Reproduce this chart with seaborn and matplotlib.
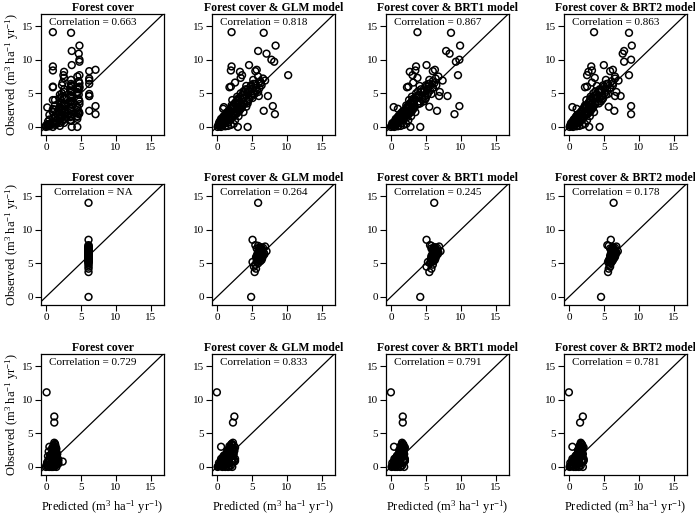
import matplotlib
matplotlib.use("Agg")
import matplotlib.pyplot as plt
import seaborn as sns
import pandas as pd

# ---------------- data ----------------
titles = ["Forest cover", "Forest cover & GLM model",
          "Forest cover & BRT1 model", "Forest cover & BRT2 model"]
correlations = [["0.663", "0.818", "0.867", "0.863"],
                ["NA", "0.264", "0.245", "0.178"],
                ["0.729", "0.833", "0.791", "0.781"]]
ticks = [0, 5, 10, 15]

# Row 1
row1_observed = [
    14.1, 14.0, 12.1, 11.3, 10.9, 10.0, 9.7, 9.0, 8.4, 9.2, 8.5, 8.3, 8.2, 7.7, 7.7, 4.6, 3.1, 1.9, 2.4, 0.0,
    7.5, 7.2, 7.0, 6.8, 6.6, 6.4, 6.2, 6.0, 5.9, 5.8, 5.6, 5.4, 5.2, 5.0, 4.8, 4.6, 4.4, 4.2, 4.0, 3.8,
    3.6, 3.4, 3.2, 3.0, 7.3, 6.9, 6.5, 6.1, 5.7, 5.3, 4.9, 4.5, 4.1, 3.7, 3.3,
    2.9, 2.8, 2.7, 2.6, 2.5, 2.4, 2.3, 2.2, 2.1, 2.0, 1.9, 1.8, 1.7, 1.6, 1.5, 1.4, 1.3, 1.2, 1.1, 1.0,
    0.9, 0.8, 0.7, 0.6, 0.5, 0.4, 0.3, 0.2, 0.1, 0.0, 2.95, 2.65, 2.35, 2.05, 1.75, 1.45, 1.15, 0.85, 0.55, 0.25,
    0.0, 0.1, 0.3, 0.6, 1.0, 1.6, 2.2, 0.0, 0.15, 0.45,
    0.5, 0.8, 1.0, 1.2, 1.4, 1.6, 1.8, 2.0, 2.2, 2.4, 2.6, 2.8, 3.0, 3.2, 3.4, 3.6, 3.8, 4.0, 4.2, 4.4,
    4.6, 4.8, 5.0, 5.2, 5.4, 5.6, 5.8, 6.0, 6.2, 6.4, 1.1, 1.5, 1.9, 2.3, 2.7, 3.1, 3.5, 3.9, 4.3, 4.7]
row1_pred_forest = [
    1.0, 3.6, 4.8, 3.7, 4.7, 4.8, 4.8, 1.0, 1.0, 3.7, 7.1, 6.2, 2.6, 4.8, 2.5, 6.2, 7.1, 7.1, 6.2, 4.5,
    4.5, 6.2, 3.6, 4.7, 2.4, 6.2, 3.7, 1.0, 1.0, 4.8, 2.6, 3.5, 4.5, 2.3, 4.7, 6.2, 3.6, 2.6, 1.0, 4.8,
    2.0, 3.7, 1.3, 4.5, 2.6, 6.2, 4.8, 3.6, 4.5, 3.7, 6.2, 2.3, 4.7, 3.5, 2.6,
    0.2, 2.0, 3.6, 1.3, 4.5, 2.3, 1.0, 3.7, 2.6, 1.5, 4.7, 0.5, 2.0, 3.5, 1.3, 2.3, 1.0, 2.6, 0.5, 1.5,
    3.6, 0.3, 1.0, 2.0, 0.5, 0.3, 1.3, 0.0, 0.5, 0.0, 3.7, 1.0, 2.6, 4.8, 2.3, 3.5, 2.0, 1.3, 1.0, 0.3,
    1.0, 0.2, 0.5, 2.6, 3.6, 4.5, 2.3, 3.7, 2.0, 1.5,
    1.3, 2.3, 3.5, 4.5, 2.0, 3.7, 2.6, 4.7, 1.0, 3.6, 2.3, 4.5, 2.0, 2.6, 4.8, 2.3, 3.5, 1.3, 3.7, 2.6,
    3.6, 2.0, 4.5, 2.6, 3.7, 4.7, 3.5, 4.8, 2.3, 3.6, 2.6, 4.5, 3.7, 4.7, 3.5, 2.3, 2.6, 3.7, 2.0, 3.5]
row1_pred_glm = [
    2.1, 6.7, 8.4, 5.9, 7.1, 7.8, 8.2, 2.1, 2.0, 4.6, 5.7, 5.5, 3.3, 10.2, 3.6, 7.3, 8.0, 8.3, 6.7, 4.4,
    5.9, 6.6, 5.2, 6.2, 2.6, 5.5, 4.9, 2.0, 1.8, 5.6, 4.1, 4.6, 5.9, 3.4, 4.9, 6.0, 3.9, 3.0, 2.2, 4.4,
    2.6, 3.8, 2.1, 4.2, 3.4, 6.9, 6.3, 4.2, 5.0, 3.8, 5.4, 2.9, 4.6, 3.2, 3.0,
    2.4, 3.5, 0.9, 2.1, 3.0, 1.9, 2.7, 1.5, 2.4, 1.7, 2.3, 1.2, 2.0, 1.4, 1.8, 1.0, 1.6, 1.1, 0.7, 1.3,
    0.9, 0.6, 1.0, 0.5, 0.7, 0.3, 0.5, 0.2, 0.4, 0.1, 1.0, 2.8, 3.2, 2.9, 1.6, 2.2, 1.9, 1.2, 0.3, 0.8,
    0.6, 1.2, 2.0, 1.5, 2.6, 3.1, 3.8, 3.0, 1.6, 2.4,
    1.1, 0.4, 1.9, 0.6, 2.2, 1.0, 2.6, 1.3, 2.9, 1.8, 3.2, 2.0, 3.6, 2.4, 3.9, 2.7, 4.3, 3.0, 4.6, 3.3,
    5.0, 3.7, 5.2, 4.0, 5.7, 4.4, 6.1, 4.8, 6.4, 5.2, 1.8, 0.9, 2.7, 1.6, 3.4, 2.3, 4.4, 2.9, 5.1, 3.6]
row1_pred_brt1 = [
    3.8, 8.6, 9.9, 7.9, 8.4, 9.8, 9.3, 3.6, 3.5, 5.1, 6.3, 6.0, 2.7, 9.6, 3.1, 8.1, 9.8, 9.1, 6.6, 4.2,
    6.8, 6.4, 5.5, 6.0, 3.2, 5.4, 5.0, 2.5, 2.3, 6.0, 4.3, 4.8, 7.0, 3.6, 5.2, 6.9, 4.0, 3.2, 2.6, 4.7,
    2.8, 3.9, 2.2, 5.5, 3.8, 7.4, 6.2, 4.1, 5.3, 3.9, 5.8, 3.0, 4.9, 3.3, 3.1,
    2.6, 3.3, 1.0, 2.3, 2.8, 2.0, 2.5, 1.6, 2.2, 1.8, 2.1, 1.3, 1.9, 1.5, 1.7, 1.1, 1.5, 1.0, 0.8, 1.2,
    0.8, 0.7, 0.9, 0.4, 0.6, 0.3, 0.4, 0.1, 0.3, 0.0, 0.4, 2.9, 3.0, 2.7, 1.5, 2.3, 1.8, 1.1, 0.2, 0.7,
    0.5, 1.0, 1.8, 1.6, 2.5, 2.9, 3.5, 2.8, 1.4, 2.2,
    1.0, 0.5, 1.7, 0.7, 2.0, 1.1, 2.4, 1.4, 2.7, 1.9, 3.0, 2.2, 3.4, 2.6, 3.8, 2.9, 4.1, 3.2, 4.5, 3.6,
    4.9, 4.0, 5.3, 4.3, 5.6, 4.7, 6.0, 5.1, 6.5, 5.5, 1.6, 1.0, 2.5, 1.7, 3.2, 2.4, 4.2, 3.1, 5.0, 3.9]
row1_pred_brt2 = [
    3.6, 8.6, 9.0, 7.9, 7.7, 8.9, 7.9, 3.2, 3.3, 5.0, 6.3, 5.9, 2.8, 8.6, 2.6, 7.4, 8.9, 8.9, 6.5, 4.4,
    6.6, 6.6, 5.3, 6.1, 3.3, 5.6, 4.9, 2.6, 2.3, 5.9, 4.4, 4.7, 6.8, 3.5, 5.3, 6.6, 4.1, 3.1, 2.5, 4.6,
    2.9, 3.8, 2.3, 5.7, 3.7, 7.1, 6.3, 4.0, 5.2, 3.8, 5.6, 3.1, 4.8, 3.4, 3.2,
    2.5, 3.4, 1.1, 2.2, 2.9, 1.9, 2.6, 1.7, 2.3, 1.7, 2.2, 1.2, 2.0, 1.4, 1.8, 1.0, 1.6, 1.1, 0.7, 1.3,
    0.9, 0.6, 1.0, 0.5, 0.7, 0.3, 0.5, 0.2, 0.4, 0.1, 0.5, 2.8, 3.1, 2.8, 1.6, 2.2, 1.9, 1.2, 0.3, 0.8,
    0.6, 1.1, 1.9, 1.5, 2.6, 3.0, 3.6, 2.9, 1.5, 2.3,
    1.2, 0.5, 1.8, 0.8, 2.1, 1.1, 2.5, 1.5, 2.8, 1.9, 3.1, 2.1, 3.5, 2.5, 3.7, 2.8, 4.2, 3.1, 4.4, 3.5,
    4.8, 3.9, 5.1, 4.2, 5.5, 4.6, 5.9, 5.0, 6.3, 5.4, 1.7, 1.0, 2.6, 1.8, 3.3, 2.5, 4.3, 3.0, 4.9, 3.7]

# Row 2
row2_observed = [
    14.0, 8.5, 0.0, 3.7, 4.2, 4.5, 4.8, 5.0, 5.2, 5.3, 5.4, 5.5, 5.6, 5.75, 5.8, 5.9, 6.0, 6.05,
    6.1, 6.2, 6.3, 6.35, 6.4, 6.5, 6.6, 6.7, 6.8, 6.9, 7.0, 7.1, 7.2, 7.3, 7.4, 7.5, 7.6, 7.7,
    5.5, 5.7, 5.9, 6.1, 6.3, 6.5, 6.7, 6.9, 7.1, 7.3, 5.2, 6.0, 6.6, 7.0, 6.4]
row2_pred_forest = [
    6.1, 6.1, 6.1, 6.1, 6.1, 6.1, 6.1, 6.1, 6.1, 6.1, 6.1, 6.1, 6.1, 6.1, 6.1, 6.1, 6.1, 6.1,
    6.1, 6.1, 6.1, 6.1, 6.1, 6.1, 6.1, 6.1, 6.1, 6.1, 6.1, 6.1, 6.1, 6.1, 6.1, 6.1, 6.1, 6.1,
    6.1, 6.1, 6.1, 6.1, 6.1, 6.1, 6.1, 6.1, 6.1, 6.1, 6.1, 6.1, 6.1, 6.1, 6.1]
row2_pred_glm = [
    5.9, 5.1, 4.9, 5.4, 5.6, 5.3, 5.5, 5.9, 5.1, 6.2, 5.7, 6.4, 5.8, 6.0, 6.5, 5.6, 6.1, 6.3,
    5.9, 6.6, 6.0, 6.8, 5.8, 6.3, 6.1, 6.5, 7.1, 6.2, 6.0, 6.4, 5.7, 6.6, 6.3, 6.9, 5.9, 5.5,
    6.1, 5.8, 6.3, 5.7, 6.0, 6.2, 5.9, 6.4, 6.1, 6.0, 5.8, 6.5, 6.7, 6.3, 6.2]
row2_pred_brt1 = [
    6.2, 5.1, 4.2, 5.5, 5.8, 5.1, 6.0, 5.6, 5.3, 6.1, 5.9, 6.3, 5.7, 6.0, 6.4, 5.8, 6.2, 6.1,
    5.9, 6.5, 6.0, 6.7, 6.1, 6.3, 6.8, 6.6, 7.1, 6.2, 6.0, 6.4, 5.8, 6.6, 6.3, 6.9, 5.8, 5.6,
    6.0, 5.9, 6.2, 5.8, 6.1, 6.3, 6.0, 6.5, 6.2, 6.1, 5.7, 6.4, 6.6, 6.4, 6.0]
row2_pred_brt2 = [
    6.4, 6.0, 4.6, 5.6, 5.7, 5.9, 5.8, 6.0, 5.6, 6.2, 5.7, 6.3, 5.8, 6.1, 6.5, 5.9, 6.2, 6.4,
    6.0, 6.6, 6.1, 6.7, 6.0, 6.3, 6.8, 6.5, 7.0, 6.2, 6.1, 6.4, 5.9, 6.6, 6.3, 6.8, 5.7, 5.5,
    6.2, 6.0, 6.3, 5.9, 6.2, 6.4, 6.1, 6.5, 6.3, 6.2, 5.9, 6.6, 6.7, 6.4, 6.1]

# Row 3
row3_observed = [
    11.1, 7.5, 6.6, 3.0, 0.8, 3.6, 3.4, 3.2, 3.0, 2.8, 2.6, 2.4, 2.2, 2.0, 1.8, 1.6, 1.4, 1.2, 1.0, 0.8,
    0.6, 0.4, 0.2, 0.0, 3.3, 2.9, 2.5, 2.1, 1.7, 1.3, 0.9, 0.5, 0.1, 0.0, 2.7, 2.3, 1.9, 1.5, 1.1, 0.7,
    0.3, 0.0, 1.0, 0.5, 2.0, 0.2, 0.0, 1.6, 0.4, 1.2,
    0.1, 0.3, 0.5, 0.7, 0.9, 1.1, 1.3, 1.5, 1.7, 1.9, 2.1, 2.3, 2.5, 2.7, 2.9, 3.1, 3.4, 0.0, 0.2, 0.4,
    0.6, 0.8, 1.0, 1.2, 1.4, 1.6, 1.8, 2.0, 2.4, 0.05]
row3_pred_forest = [
    0.1, 1.2, 1.2, 0.5, 2.4, 1.2, 1.3, 1.1, 1.4, 0.9, 1.2, 1.0, 1.5, 0.8, 1.3, 0.7, 1.6, 0.9, 1.1, 0.5,
    1.7, 0.6, 0.3, 0.0, 1.3, 1.0, 1.4, 1.2, 0.6, 1.5, 1.7, 1.8, 0.2, 1.0, 1.3, 0.4, 1.6, 1.1, 0.4, 0.2,
    0.1, 0.5, 1.8, 1.2, 1.0, 0.7, 1.5, 0.3, 1.4, 0.8,
    0.4, 0.8, 1.2, 0.3, 1.5, 0.6, 1.0, 1.3, 0.9, 1.6, 1.1, 1.3, 1.0, 1.5, 1.2, 1.1, 1.3, 0.8, 1.4, 1.0,
    0.2, 1.6, 0.5, 1.7, 0.7, 1.0, 1.2, 1.4, 1.1, 1.2]
row3_pred_glm = [
    0.0, 2.5, 2.3, 0.6, 2.1, 2.3, 2.1, 2.4, 2.0, 2.2, 1.8, 2.5, 1.6, 1.9, 1.3, 2.0, 1.1, 1.5, 0.9, 1.2,
    0.7, 0.5, 0.3, 0.1, 2.2, 2.6, 1.7, 1.4, 1.0, 0.8, 2.6, 1.4, 0.2, 0.8, 2.4, 1.9, 2.3, 0.9, 1.7, 0.6,
    0.5, 1.6, 2.4, 1.0, 2.1, 0.4, 2.2, 1.2, 1.1, 0.6,
    0.6, 1.2, 1.8, 0.5, 2.2, 0.9, 1.5, 2.0, 1.3, 2.4, 1.7, 2.0, 1.5, 2.3, 1.9, 1.8, 2.1, 1.2, 2.0, 1.5,
    0.3, 2.5, 0.7, 2.6, 1.0, 1.4, 1.8, 2.2, 1.6, 1.8]
row3_pred_brt1 = [
    0.0, 1.7, 1.7, 0.45, 1.9, 1.6, 1.7, 1.5, 1.8, 1.4, 1.6, 1.8, 1.3, 1.5, 1.2, 1.7, 1.0, 1.4, 0.8, 1.1,
    0.6, 0.5, 0.3, 0.1, 1.8, 2.0, 1.5, 1.2, 0.9, 0.7, 2.0, 1.2, 0.2, 0.6, 1.9, 1.6, 1.9, 0.8, 1.4, 0.5,
    0.4, 1.3, 2.0, 0.9, 1.8, 0.3, 1.9, 1.1, 1.0, 0.5,
    0.5, 0.9, 1.4, 0.4, 1.7, 0.7, 1.2, 1.5, 1.0, 1.8, 1.3, 1.6, 1.2, 1.7, 1.5, 1.4, 1.6, 0.9, 1.6, 1.2,
    0.2, 1.9, 0.6, 2.0, 0.8, 1.1, 1.4, 1.7, 1.3, 1.4]
row3_pred_brt2 = [
    0.0, 2.0, 1.6, 0.5, 2.0, 1.7, 1.8, 1.6, 1.9, 1.5, 1.7, 1.9, 1.4, 1.6, 1.2, 1.8, 1.1, 1.4, 0.9, 1.2,
    0.7, 0.5, 0.3, 0.1, 1.9, 2.1, 1.6, 1.3, 1.0, 0.8, 2.1, 1.3, 0.2, 0.7, 2.0, 1.7, 2.0, 0.9, 1.5, 0.6,
    0.4, 1.4, 2.1, 1.0, 1.9, 0.3, 2.0, 1.2, 1.1, 0.5,
    0.5, 1.0, 1.5, 0.4, 1.8, 0.8, 1.3, 1.6, 1.1, 1.9, 1.4, 1.7, 1.3, 1.8, 1.6, 1.5, 1.7, 1.0, 1.7, 1.3,
    0.2, 2.0, 0.6, 2.1, 0.9, 1.2, 1.5, 1.8, 1.4, 1.5]

ylabel = r"Observed (m$^3$ ha$^{-1}$ yr$^{-1}$)"
xlabel = r"Predicted (m$^3$ ha$^{-1}$ yr$^{-1}$)"

# ---------------- style ----------------
sns.set_style("white")
plt.rcParams["font.family"] = ["Liberation Serif", "DejaVu Serif"]
plt.rcParams["mathtext.fontset"] = "custom"
plt.rcParams["mathtext.rm"] = "Liberation Serif"
plt.rcParams["mathtext.it"] = "Liberation Serif:italic"
plt.rcParams["mathtext.bf"] = "Liberation Serif:bold"
for k in ["text.color", "axes.labelcolor", "xtick.color", "ytick.color", "axes.edgecolor"]:
    plt.rcParams[k] = "black"

W, H = 695, 517
fig = plt.figure(figsize=(W / 100, H / 100), dpi=100)
col_left = [41, 212, 386, 564]
row_top = [14, 184, 354]
pw, ph = 123, 121

rows = [
    (row1_observed, [row1_pred_forest, row1_pred_glm, row1_pred_brt1, row1_pred_brt2]),
    (row2_observed, [row2_pred_forest, row2_pred_glm, row2_pred_brt1, row2_pred_brt2]),
    (row3_observed, [row3_pred_forest, row3_pred_glm, row3_pred_brt1, row3_pred_brt2]),
]

for r, (obs, preds) in enumerate(rows):
    for c, pred in enumerate(preds):
        ax = fig.add_axes([col_left[c] / W, 1 - (row_top[r] + ph) / H, pw / W, ph / H])
        df = pd.DataFrame({"Predicted": pred, "Observed": obs})
        sns.scatterplot(data=df, x="Predicted", y="Observed", ax=ax, marker="o", s=24,
                        facecolor="none", edgecolor="black", linewidth=1.1, legend=False)
        ax.axline((0, 0), slope=1, color="black", lw=0.9)
        ax.set_xlim(-0.7, 16.9)
        ax.set_ylim(-1.2, 16.8)
        ax.set_xticks(ticks)
        ax.set_yticks(ticks)
        ax.tick_params(bottom=True, left=True, direction="out", length=4, width=0.8,
                       labelsize=8, pad=2, colors="black")
        for sp in ax.spines.values():
            sp.set_visible(True)
            sp.set_color("black")
            sp.set_linewidth(0.9)
        ax.set_title(titles[c], fontsize=8.5, fontweight="bold", pad=2.5)
        ax.text(6.75, 15.6, f"Correlation = {correlations[r][c]}", ha="center", va="center",
                fontsize=8)
        ax.set_xlabel("")
        ax.set_ylabel("")
        if c == 0:
            ax.set_ylabel(ylabel, fontsize=9)
            ax.yaxis.set_label_coords(-0.16, 0.5)
        if r == 2:
            ax.set_xlabel(xlabel, fontsize=9)
            ax.xaxis.set_label_coords(0.5, -0.19)

fig.savefig("out.png", dpi=100)
